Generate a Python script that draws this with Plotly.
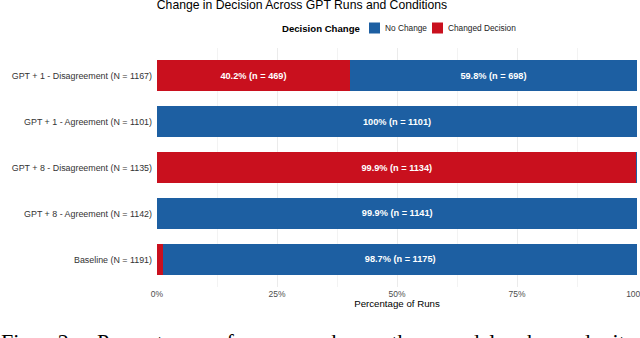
import plotly.graph_objects as go

conditions = [
    "GPT + 1 - Disagreement",
    "GPT + 1 - Agreement",
    "GPT + 8 - Disagreement",
    "GPT + 8 - Agreement",
    "Baseline",
]
totals = [1167, 1101, 1135, 1142, 1191]
changed_counts = [469, 0, 1134, 1, 16]
no_change_counts = [698, 1101, 1, 1141, 1175]
x_tick_vals = [0, 25, 50, 75, 100]
x_tick_text = ["0%", "25%", "50%", "75%", "100%"]
legend_title = "Decision Change"
legend_names = ["No Change", "Changed Decision"]
caption_words = ["Fig.", "2:", "Percentage", "of", "runs", "where", "the", "model", "changed", "its", "decision"]

BLUE = "#1D5FA2"
RED = "#C9101E"
FONT = "Liberation Sans, Arial, sans-serif"

cats = [f"{c} (N = {n})" for c, n in zip(conditions, totals)]


def pct(counts):
    return [100.0 * k / n for k, n in zip(counts, totals)]


def labels(counts):
    out = []
    for k, n in zip(counts, totals):
        p = round(100.0 * k / n, 1)
        if p < 5:
            out.append("")
        else:
            out.append(f"<b>{p:g}% (n = {k})</b>")
    return out


fig = go.Figure()
fig.add_trace(go.Bar(
    y=cats, x=pct(changed_counts), orientation="h", name=legend_names[1],
    marker=dict(color=RED, line=dict(width=0)),
    text=labels(changed_counts), textposition="inside", insidetextanchor="middle",
    textfont=dict(color="white", size=9.2, family=FONT), constraintext="none",
    width=0.68, hoverinfo="skip", showlegend=False,
))
fig.add_trace(go.Bar(
    y=cats, x=pct(no_change_counts), orientation="h", name=legend_names[0],
    marker=dict(color=BLUE, line=dict(width=0)),
    text=labels(no_change_counts), textposition="inside", insidetextanchor="middle",
    textfont=dict(color="white", size=9.2, family=FONT), constraintext="none",
    width=0.68, hoverinfo="skip", showlegend=False,
))

W, H = 640, 338
L, R, T, B = 157, 3, 48, 51
PH = H - T - B
PW = W - L - R


def px(x):
    return (x - L) / PW


def py(y):
    return (H - B - y) / PH


fig.update_layout(
    width=W, height=H,
    barmode="stack",
    plot_bgcolor="white", paper_bgcolor="white",
    margin=dict(l=L, r=R, t=T, b=B, autoexpand=False),
    font=dict(family=FONT, color="#000000"),
    title=dict(
        text="Change in Decision Across GPT Runs and Conditions",
        font=dict(size=12.2, color="#000000", family=FONT),
        x=302 / W, xanchor="center", y=1 - 5 / H, yanchor="middle",
    ),
    showlegend=False,
    xaxis=dict(
        range=[0, 100], tickvals=x_tick_vals, ticktext=x_tick_text,
        showgrid=True, gridcolor="#EBEBEB", gridwidth=1,
        minor=dict(dtick=12.5, tick0=0, showgrid=True, gridcolor="#F3F3F3", gridwidth=1),
        zeroline=False, showline=False, ticks="",
        tickfont=dict(size=8.5, color="#4D4D4D"),
        ticklabeloverflow="allow",
        title=dict(text="Percentage of Runs", font=dict(size=9.7, color="#000000"), standoff=2),
        automargin=False, fixedrange=True,
    ),
    yaxis=dict(
        categoryorder="array", categoryarray=cats,
        range=[4.6, -0.6],
        showgrid=False, zeroline=False, showline=False, ticks="",
        tickfont=dict(size=8.9, color="#333333"),
        ticklabelstandoff=4,
        automargin=False, fixedrange=True,
    ),
)

LEG_Y = 28
fig.add_annotation(
    text=f"<b>{legend_title}</b>", xref="paper", yref="paper",
    x=px(281), xanchor="left", y=py(LEG_Y), yanchor="middle",
    showarrow=False, font=dict(size=9.6, color="#000000", family=FONT),
    borderpad=0,
)
for name, color, box_x, text_x in [
    (legend_names[0], BLUE, 369, 384),
    (legend_names[1], RED, 432, 447),
]:
    fig.add_shape(
        type="rect", xref="paper", yref="paper",
        x0=px(box_x), x1=px(box_x + 11), y0=py(LEG_Y - 5.5), y1=py(LEG_Y + 5.5),
        fillcolor=color, line=dict(width=0),
    )
    fig.add_annotation(
        text=name, xref="paper", yref="paper",
        x=px(text_x), xanchor="left", y=py(LEG_Y), yanchor="middle",
        showarrow=False, font=dict(size=8.3, color="#222222", family=FONT),
        borderpad=0,
    )

# Justified-looking caption (wide word spacing), mostly cut off at the bottom edge
fig.add_annotation(
    text="\u00a0\u00a0\u00a0\u00a0".join(caption_words),
    xref="paper", yref="paper",
    x=px(0), xanchor="left",
    y=py(328), yanchor="top",
    showarrow=False, borderpad=0,
    font=dict(family="Liberation Serif, Times New Roman, serif", size=22, color="#000000"),
)

fig.write_html(
    "out.html",
    config={"displayModeBar": False},
    post_script="document.body.style.margin='0px';",
)
